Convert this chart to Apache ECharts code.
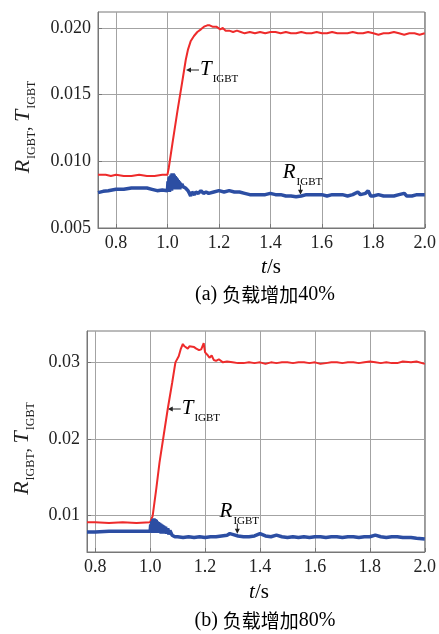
<!DOCTYPE html>
<html>
<head>
<meta charset="UTF-8">
<title>R_IGBT T_IGBT</title>
<script src="https://cdn.jsdelivr.net/npm/echarts@6/dist/echarts.min.js"></script>
<style>
html, body {margin: 0; padding: 0; background: #fff;}
#main {width: 439px; height: 634px;}
</style>
</head>
<body>
<div id="main"></div>
<script>
// tick labels
var xTicks = [0.8, 1.0, 1.2, 1.4, 1.6, 1.8, 2.0];
var yTicksA = [0.005, 0.010, 0.015, 0.020];
var yTicksB = [0.01, 0.02, 0.03];

// (a) 负载增加40%  -- [t, value]
var tempA = [
    [0.73,0.0090],[0.76,0.0090],[0.78,0.0089],[0.80,0.0090],[0.83,0.0089],[0.86,0.0089],[0.89,0.0090],
    [0.92,0.0089],[0.95,0.0089],[0.98,0.0090],[1.0,0.0090],[1.005,0.0095],[1.019,0.0113],[1.039,0.0138],
    [1.056,0.0158],[1.071,0.0176],[1.08,0.0184],[1.09,0.0190],[1.103,0.0194],[1.116,0.0197],[1.13,0.0199],
    [1.142,0.0201],[1.155,0.0202],[1.164,0.0202],[1.175,0.0201],[1.19,0.0201],[1.205,0.0199],[1.215,0.0200],
    [1.226,0.0198],[1.24,0.0198],[1.255,0.0197],[1.27,0.0198],[1.285,0.0197],[1.30,0.0196],[1.32,0.0197],
    [1.34,0.0196],[1.36,0.0197],[1.38,0.0196],[1.40,0.0197],[1.42,0.0197],[1.44,0.0196],[1.46,0.0197],
    [1.48,0.0196],[1.50,0.0196],[1.52,0.0197],[1.54,0.0196],[1.56,0.0196],[1.58,0.0197],[1.60,0.0196],
    [1.62,0.0196],[1.64,0.0197],[1.66,0.0196],[1.68,0.0196],[1.70,0.0196],[1.72,0.0197],[1.74,0.0196],
    [1.76,0.0196],[1.78,0.0197],[1.80,0.0196],[1.82,0.0195],[1.84,0.0196],[1.86,0.0196],[1.88,0.0197],
    [1.90,0.0196],[1.92,0.0195],[1.94,0.0196],[1.96,0.0196],[1.98,0.0195],[2.0,0.0196]
];
var resA = [
    [0.73,0.00765],[0.75,0.00775],[0.77,0.0078],[0.80,0.0079],[0.83,0.0079],[0.86,0.0080],[0.89,0.0080],
    [0.92,0.0080],[0.94,0.0079],[0.96,0.0078],[0.98,0.00785],[1.0,0.0078],
    [1.002,0.0085],[1.004,0.0077],[1.006,0.0088],[1.008,0.0077],[1.010,0.0089],[1.012,0.0078],[1.014,0.0090],
    [1.016,0.0078],[1.018,0.0091],[1.020,0.0079],[1.022,0.0091],[1.024,0.0079],[1.026,0.0090],[1.028,0.0079],
    [1.030,0.0089],[1.032,0.0079],[1.034,0.0088],[1.036,0.0079],[1.038,0.0087],[1.040,0.0079],[1.042,0.0086],
    [1.044,0.0079],[1.046,0.0085],[1.048,0.0079],[1.050,0.0084],[1.053,0.0080],[1.056,0.0083],[1.06,0.0081],
    [1.065,0.0082],[1.07,0.0080],[1.075,0.0081],[1.08,0.0078],[1.085,0.0076],[1.09,0.0074],[1.095,0.0077],
    [1.10,0.0078],[1.105,0.0075],[1.11,0.0077],[1.12,0.0076],[1.13,0.0078],[1.14,0.0076],[1.15,0.0077],
    [1.16,0.0076],[1.18,0.0077],[1.20,0.0078],[1.22,0.0077],[1.24,0.0078],[1.26,0.0077],[1.28,0.0077],
    [1.30,0.0076],[1.32,0.0075],[1.34,0.0075],[1.36,0.0075],[1.38,0.0075],[1.40,0.0076],[1.42,0.0075],
    [1.44,0.0075],[1.46,0.0074],[1.48,0.0074],[1.50,0.00735],[1.52,0.0074],[1.54,0.0075],[1.56,0.0075],
    [1.58,0.0075],[1.60,0.0075],[1.62,0.0074],[1.64,0.0075],[1.66,0.0075],[1.68,0.0075],[1.70,0.0074],
    [1.72,0.0075],[1.74,0.0077],[1.75,0.0075],[1.77,0.0076],[1.78,0.0078],[1.79,0.0074],[1.80,0.0074],
    [1.82,0.0075],[1.84,0.0074],[1.86,0.0074],[1.88,0.0074],[1.90,0.0075],[1.92,0.0076],[1.93,0.0074],
    [1.95,0.0074],[1.97,0.0075],[2.0,0.0075]
];

// (b) 负载增加80%
var tempB = [
    [0.77,0.0091],[0.80,0.0091],[0.85,0.0090],[0.90,0.0091],[0.95,0.0090],[1.0,0.0091],[1.009,0.0099],
    [1.022,0.0134],[1.034,0.0169],[1.049,0.0204],[1.064,0.0239],[1.08,0.0273],[1.092,0.0300],[1.104,0.0308],
    [1.112,0.0318],[1.119,0.0324],[1.125,0.0321],[1.131,0.0322],[1.137,0.0318],[1.143,0.0321],[1.15,0.0319],
    [1.16,0.0320],[1.168,0.0318],[1.178,0.0316],[1.186,0.0317],[1.19,0.0316],[1.195,0.0325],[1.2,0.0313],
    [1.208,0.0310],[1.216,0.0306],[1.224,0.0309],[1.232,0.0303],[1.24,0.0302],[1.25,0.0304],[1.265,0.0300],
    [1.28,0.0301],[1.30,0.0300],[1.32,0.0299],[1.34,0.0299],[1.36,0.0300],[1.38,0.0299],[1.40,0.0300],
    [1.42,0.0298],[1.44,0.0300],[1.46,0.0299],[1.48,0.0300],[1.50,0.0300],[1.52,0.0299],[1.54,0.0300],
    [1.56,0.0300],[1.58,0.0299],[1.60,0.0300],[1.62,0.0298],[1.64,0.0299],[1.66,0.0300],[1.68,0.0300],
    [1.70,0.0299],[1.72,0.0300],[1.74,0.0300],[1.76,0.0299],[1.78,0.0300],[1.80,0.0301],[1.82,0.0300],
    [1.84,0.0299],[1.86,0.0300],[1.88,0.0299],[1.90,0.0299],[1.92,0.0301],[1.95,0.0300],[1.97,0.0301],
    [2.0,0.0298]
];
var resB = [
    [0.77,0.0078],[0.80,0.0078],[0.85,0.0079],[0.90,0.0079],[0.95,0.0079],[1.0,0.0079],
    [1.002,0.0088],[1.004,0.0078],[1.006,0.0092],[1.008,0.0077],[1.010,0.0095],[1.012,0.0077],[1.014,0.0096],
    [1.016,0.0077],[1.018,0.0095],[1.020,0.0077],[1.022,0.0094],[1.024,0.0077],[1.026,0.0092],[1.028,0.0077],
    [1.030,0.0091],[1.032,0.0077],[1.034,0.0090],[1.036,0.0077],[1.038,0.0089],[1.040,0.0076],[1.042,0.0088],
    [1.044,0.0076],[1.046,0.0087],[1.048,0.0076],[1.050,0.0086],[1.053,0.0076],[1.056,0.0085],[1.06,0.0076],
    [1.064,0.0083],[1.068,0.0075],[1.072,0.0080],[1.08,0.0074],[1.09,0.0072],[1.10,0.0072],[1.12,0.0071],
    [1.14,0.0072],[1.16,0.0071],[1.18,0.0072],[1.20,0.0071],[1.22,0.0072],[1.24,0.0072],[1.26,0.0073],
    [1.28,0.0074],[1.29,0.0076],[1.30,0.0075],[1.32,0.0073],[1.34,0.0072],[1.36,0.0072],[1.38,0.0073],
    [1.40,0.0076],[1.42,0.0073],[1.44,0.0072],[1.46,0.0074],[1.48,0.0072],[1.50,0.0071],[1.52,0.0072],
    [1.54,0.0071],[1.56,0.0072],[1.58,0.0071],[1.60,0.0072],[1.62,0.0072],[1.64,0.0071],[1.66,0.0072],
    [1.68,0.0072],[1.70,0.0071],[1.72,0.0072],[1.74,0.0072],[1.76,0.0071],[1.78,0.0072],[1.80,0.0072],
    [1.82,0.0074],[1.84,0.0072],[1.86,0.0071],[1.88,0.0072],[1.90,0.0072],[1.92,0.0071],[1.95,0.0071],
    [1.97,0.0070],[2.0,0.0069]
];

var serif = 'Liberation Serif, DejaVu Serif, serif';
var red = '#ee2b2b';
var blue = '#2c4ea3';
var gridColor = '#a3a3a3';

var myChart = echarts.init(document.getElementById('main'));

function xAxisOpt(idx, min) {
    return {
        type: 'value', gridIndex: idx, min: min, max: 2.0,
        axisLine: {show: true, onZero: false, lineStyle: {color: '#777'}},
        axisTick: {show: true, inside: true, length: 4, customValues: xTicks, lineStyle: {color: '#777'}},
        axisLabel: {customValues: xTicks, margin: 6, color: '#222', fontFamily: serif, fontSize: 18,
            formatter: function (v) { return v.toFixed(1); }},
        splitLine: {show: true, lineStyle: {color: gridColor, width: 1}}
    };
}
function yAxisOpt(idx, min, max, ticks, digits) {
    return {
        type: 'value', gridIndex: idx, min: min, max: max,
        name: '{i|R}{s|IGBT}{n|, }{i|T}{s|IGBT}',
        nameLocation: 'middle', nameRotate: 90, nameGap: idx === 0 ? 64 : 54,
        nameTextStyle: {
            color: '#222',
            padding: [0, 14, 0, 0],
            rich: {
                i: {fontFamily: serif, fontStyle: 'italic', fontSize: 22, color: '#222', verticalAlign: 'bottom'},
                s: {fontFamily: serif, fontSize: 12, color: '#222', verticalAlign: 'bottom', padding: [0, 0, -4, 1]},
                n: {fontFamily: serif, fontSize: 18, color: '#222', verticalAlign: 'bottom'}
            }
        },
        axisLine: {show: true, lineStyle: {color: '#777'}},
        axisTick: {show: true, inside: true, length: 4, customValues: ticks, lineStyle: {color: '#777'}},
        axisLabel: {customValues: ticks, margin: 7, color: '#222', fontFamily: serif, fontSize: 18,
            formatter: function (v) { return v.toFixed(digits); }},
        splitLine: {show: true, lineStyle: {color: gridColor, width: 1}}
    };
}
function lineSeries(idx, data, color, width) {
    return {
        type: 'line', xAxisIndex: idx, yAxisIndex: idx, data: data,
        showSymbol: false, symbol: 'none', animation: false,
        lineStyle: {color: color, width: width}
    };
}

var option = {
    animation: false,
    grid: [
        {left: 98, top: 12, width: 329, height: 216, show: true, borderColor: '#777', borderWidth: 1},
        {left: 87, top: 331, width: 339, height: 221, show: true, borderColor: '#777', borderWidth: 1}
    ],
    xAxis: [xAxisOpt(0, 0.73), xAxisOpt(1, 0.77)],
    yAxis: [
        yAxisOpt(0, 0.005, 0.0212, yTicksA, 3),
        yAxisOpt(1, 0.0052, 0.0341, yTicksB, 2)
    ],
    series: [
        lineSeries(0, tempA, red, 2),
        lineSeries(0, resA, blue, 3.5),
        lineSeries(1, tempB, red, 2),
        lineSeries(1, resB, blue, 3.5)
    ]
};
myChart.setOption(option);

// annotations: arrow tip in data coords, label to the side
var labelRich = {
    i: {fontFamily: serif, fontStyle: 'italic', fontSize: 21, color: '#222', verticalAlign: 'bottom'},
    s: {fontFamily: serif, fontSize: 11, color: '#222', verticalAlign: 'bottom', padding: [0, 0, -5, 1]}
};
var notes = [
    {grid: 0, at: [1.072, 0.01685], dir: 'left', text: '{i|T}{s|IGBT}'},
    {grid: 0, at: [1.517, 0.0075], dir: 'down', text: '{i|R}{s|IGBT}'},
    {grid: 1, at: [1.064, 0.0239], dir: 'left', text: '{i|T}{s|IGBT}'},
    {grid: 1, at: [1.3175, 0.0076], dir: 'down', text: '{i|R}{s|IGBT}'}
];

var elements = [];
notes.forEach(function (n) {
    var p = myChart.convertToPixel({gridIndex: n.grid}, n.at);
    if (n.dir === 'left') {
        elements.push({type: 'line', shape: {x1: p[0] + 3, y1: p[1], x2: p[0] + 13, y2: p[1]},
            style: {stroke: '#222', lineWidth: 1}});
        elements.push({type: 'polygon', shape: {points: [[p[0], p[1]], [p[0] + 5, p[1] - 2.5], [p[0] + 5, p[1] + 2.5]]},
            style: {fill: '#222'}});
        elements.push({type: 'text', x: p[0] + 14, y: p[1] + 10,
            style: {text: n.text, rich: labelRich, align: 'left', verticalAlign: 'bottom'}});
    } else {
        elements.push({type: 'line', shape: {x1: p[0], y1: p[1] - 10, x2: p[0], y2: p[1] - 3},
            style: {stroke: '#222', lineWidth: 1}});
        elements.push({type: 'polygon', shape: {points: [[p[0], p[1]], [p[0] - 2.5, p[1] - 5], [p[0] + 2.5, p[1] - 5]]},
            style: {fill: '#222'}});
        elements.push({type: 'text', x: p[0] + 2, y: p[1] - 12,
            style: {text: n.text, rich: labelRich, align: 'center', verticalAlign: 'bottom'}});
    }
});

// x axis names and captions
var axisName = {
    i: {fontFamily: serif, fontStyle: 'italic', fontSize: 21, color: '#222'},
    n: {fontFamily: serif, fontSize: 21, color: '#222'}
};
var capRich = {
    a: {fontFamily: serif, fontSize: 20, color: '#222'},
    c: {fontFamily: 'Noto Sans CJK SC', fontSize: 19, color: '#222'}
};
elements.push({type: 'text', x: 271, y: 267, style: {text: '{i|t}{n|/s}', rich: axisName, align: 'center', verticalAlign: 'middle'}});
elements.push({type: 'text', x: 265, y: 295, style: {text: '{a|(a) }{c|负载增加}{a|40%}', rich: capRich, align: 'center', verticalAlign: 'middle'}});
elements.push({type: 'text', x: 259, y: 592, style: {text: '{i|t}{n|/s}', rich: axisName, align: 'center', verticalAlign: 'middle'}});
elements.push({type: 'text', x: 265, y: 621, style: {text: '{a|(b) }{c|负载增加}{a|80%}', rich: capRich, align: 'center', verticalAlign: 'middle'}});

myChart.setOption({graphic: {elements: elements}});
</script>
</body>
</html>
